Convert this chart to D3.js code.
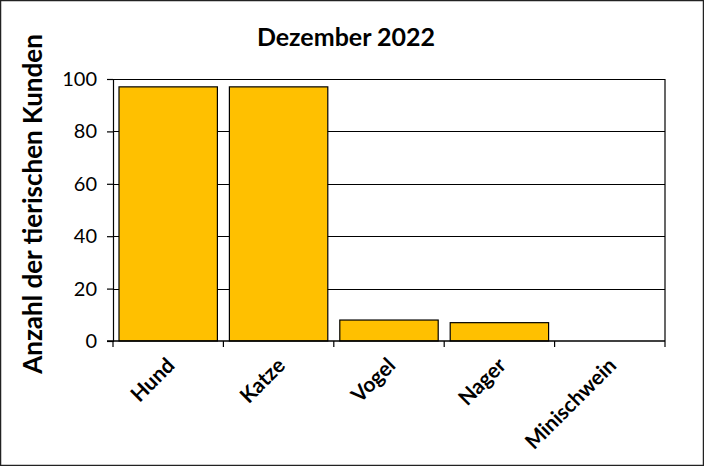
<!DOCTYPE html>
<html><head><meta charset="utf-8">
<script src="https://cdn.jsdelivr.net/npm/d3@7"></script>
<style>body{margin:0;background:#fff;}svg{display:block;}</style>
</head><body>
<script>
const categories = ["Hund", "Katze", "Vogel", "Nager", "Minischwein"];
const values = [97, 97, 8, 7, 0];
const yTicks = [0, 20, 40, 60, 80, 100];
const title = "Dezember 2022";
const yLabel = "Anzahl der tierischen Kunden";

const W = 704, H = 466;
const m = {left: 113, right: 39, top: 79, bottom: 125};
const svg = d3.select("body").append("svg").attr("width", W).attr("height", H);
svg.append("rect").attr("x", 0.5).attr("y", 0.5).attr("width", W - 1).attr("height", H - 1)
  .attr("fill", "#fff").attr("stroke", "#222").attr("stroke-width", 1.5);

const xb = d3.scaleBand().domain(categories).range([m.left, W - m.right]);
const y = d3.scaleLinear().domain([0, 100]).range([H - m.bottom, m.top]);
const font = "Lato, 'Open Sans', sans-serif";

// gridlines
svg.append("g").selectAll("line").data(yTicks.filter(d => d > 0)).join("line")
  .attr("x1", m.left).attr("x2", W - m.right)
  .attr("y1", d => Math.round(y(d)) + 0.5).attr("y2", d => Math.round(y(d)) + 0.5)
  .attr("stroke", "#000").attr("stroke-width", 1.2);

// bars
svg.append("g").selectAll("rect").data(values).join("rect")
  .attr("x", (d, i) => xb(categories[i]) + 6)
  .attr("width", xb.bandwidth() - 12)
  .attr("y", d => y(d))
  .attr("height", d => y(0) - y(d))
  .attr("fill", "#FFC000").attr("stroke", "#000").attr("stroke-width", 1.2)
  .attr("display", d => d > 0 ? null : "none");

// y axis
const yAxis = svg.append("g").attr("transform", `translate(${m.left},0)`)
  .call(d3.axisLeft(y).tickValues(yTicks).tickSize(6).tickPadding(10));
yAxis.select(".domain").attr("stroke", "#000").attr("stroke-width", 1.2);
yAxis.selectAll(".tick line").attr("stroke", "#000").attr("stroke-width", 1.2);
yAxis.selectAll("text").attr("font-family", font).attr("font-size", 20).attr("fill", "#000");

// x axis line + ticks at boundaries
const xg = svg.append("g");
xg.append("line").attr("x1", m.left - 6).attr("x2", W - m.right)
  .attr("y1", y(0)).attr("y2", y(0)).attr("stroke", "#000").attr("stroke-width", 1.5);
const bounds = categories.map(c => xb(c)).concat([W - m.right]);
xg.selectAll("line.t").data(bounds).join("line").attr("class", "t")
  .attr("x1", d => d).attr("x2", d => d).attr("y1", y(0)).attr("y2", y(0) + 6)
  .attr("stroke", "#000").attr("stroke-width", 1.2);
// right frame
svg.append("line").attr("x1", W - m.right).attr("x2", W - m.right)
  .attr("y1", y(100)).attr("y2", y(0)).attr("stroke", "#000").attr("stroke-width", 1.2);

// x labels
xg.selectAll("text").data(categories).join("text")
  .attr("transform", d => `translate(${xb(d) + xb.bandwidth() / 2 + 4},${y(0) + 22}) rotate(-45)`)
  .attr("text-anchor", "end").attr("dominant-baseline", "middle")
  .attr("font-family", font).attr("font-weight", "bold").attr("font-size", 21).attr("fill", "#000")
  .text(d => d);

// title
svg.append("text").attr("x", 346).attr("y", 46).attr("text-anchor", "middle")
  .attr("font-family", font).attr("font-weight", "bold").attr("font-size", 25).text(title);

// y label
svg.append("text").attr("transform", `translate(42,204) rotate(-90)`)
  .attr("text-anchor", "middle").attr("font-family", font).attr("font-weight", "bold")
  .attr("font-size", 26).text(yLabel);
</script>
</body></html>
